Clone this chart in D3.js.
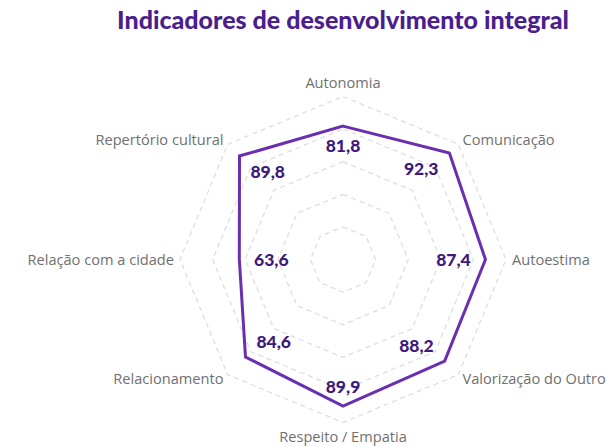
<!DOCTYPE html>
<html>
<head>
<meta charset="utf-8">
<script src="https://cdn.jsdelivr.net/npm/d3@7"></script>
<style>
  body { margin: 0; background: #fff; }
  svg { display: block; }
</style>
</head>
<body>
<svg id="chart" width="612" height="447"></svg>
<script>
const width = 612;
const height = 447;

var axes = ["Autonomia", "Comunicação", "Autoestima", "Valorização do Outro", "Respeito / Empatia", "Relacionamento", "Relação com a cidade", "Repertório cultural"];
var values = [81.8, 92.3, 87.4, 88.2, 89.9, 84.6, 63.6, 89.8];
var rings = [20, 40, 60, 80, 100];

var cx = 343, cy = 259.5, R = 163;
var purple = "#6a2fb0";

var svg = d3.select("#chart");

var rScale = d3.scaleLinear().domain([0, 100]).range([0, R]);
var angle = d3.scalePoint().domain(axes).range([0, 2 * Math.PI * (axes.length - 1) / axes.length]);

function pt(name, r) {
    var a = angle(name);
    return [cx + r * Math.sin(a), cy - r * Math.cos(a)];
}

// titulo
svg.append("text")
    .attr("x", cx)
    .attr("y", 29)
    .attr("text-anchor", "middle")
    .attr("font-family", "Lato")
    .attr("font-weight", 900)
    .attr("font-size", 25)
    .attr("fill", "#4b1e8e")
    .text("Indicadores de desenvolvimento integral");

// grade
svg.append("g")
    .selectAll("polygon")
    .data(rings)
    .enter()
    .append("polygon")
    .attr("points", function (v) {
        return axes.map(function (a) { return pt(a, rScale(v)).join(","); }).join(" ");
    })
    .attr("fill", "none")
    .attr("stroke", "#dedede")
    .attr("stroke-width", 1.3)
    .attr("stroke-dasharray", "5,4");

// rótulos dos eixos
svg.append("g")
    .selectAll("text")
    .data(axes)
    .enter()
    .append("text")
    .attr("x", function (d) { return pt(d, R + 6)[0]; })
    .attr("y", function (d) {
        var p = pt(d, R + 6);
        var c = Math.cos(angle(d));
        return p[1] - (Math.abs(c) > 0.99 ? c * 8 : 0);
    })
    .attr("dy", "0.35em")
    .attr("text-anchor", function (d) {
        var s = Math.sin(angle(d));
        return Math.abs(s) < 0.01 ? "middle" : (s > 0 ? "start" : "end");
    })
    .attr("font-family", "Open Sans")
    .attr("font-size", 14.6)
    .attr("fill", "#707070")
    .text(function (d) { return d; });

// polígono dos valores
var line = d3.lineRadial()
    .angle(function (d, i) { return angle(axes[i]); })
    .radius(function (d) { return rScale(d); })
    .curve(d3.curveLinearClosed);

svg.append("path")
    .attr("transform", "translate(" + cx + "," + cy + ")")
    .attr("d", line(values))
    .attr("fill", "none")
    .attr("stroke", purple)
    .attr("stroke-width", 3)
    .attr("stroke-linejoin", "miter");

// valores
var fmt = function (v) { return d3.format(".1f")(v).replace(".", ","); };
var halfW = 19, halfH = 6.5, gap = 13;

svg.append("g")
    .selectAll("text")
    .data(values)
    .enter()
    .append("text")
    .attr("x", function (d, i) {
        var a = angle(axes[i]);
        var s = Math.sin(a);
        var p = pt(axes[i], rScale(d));
        var sg = Math.abs(s) < 0.01 ? 0 : Math.sign(s);
        return p[0] - s * gap - sg * halfW;
    })
    .attr("y", function (d, i) {
        var a = angle(axes[i]);
        var c = -Math.cos(a);
        var p = pt(axes[i], rScale(d));
        var sg = Math.abs(c) < 0.01 ? 0 : Math.sign(c);
        return p[1] - c * gap - sg * halfH;
    })
    .attr("dy", "0.36em")
    .attr("text-anchor", "middle")
    .attr("font-family", "Lato")
    .attr("font-weight", 900)
    .attr("font-size", 17.5)
    .attr("fill", "#3d1a7c")
    .text(fmt);
</script>
</body>
</html>
